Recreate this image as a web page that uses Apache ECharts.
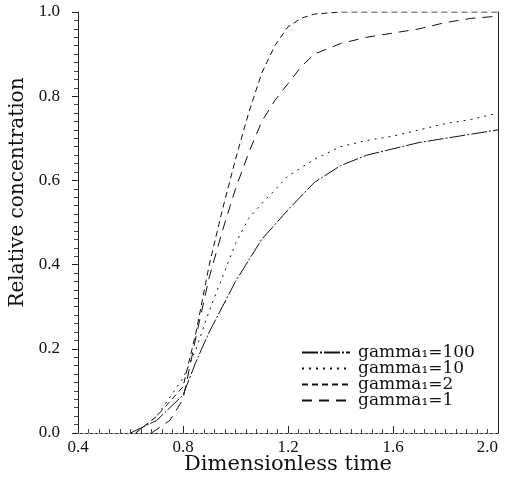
<!DOCTYPE html>
<html>
<head>
<meta charset="utf-8">
<script src="https://cdn.jsdelivr.net/npm/echarts@6/dist/echarts.min.js"></script>
<style>
  html, body { margin: 0; padding: 0; background: #fff; }
  #chart { width: 505px; height: 479px; }
</style>
</head>
<body>
<div id="chart"></div>
<script>
// values, [time, concentration]
const gamma100 = [[0.6,0],[0.7,0.03],[0.8,0.09],[0.85,0.17],[0.9,0.24],[0.95,0.30],[1.0,0.36],[1.1,0.46],[1.2,0.53],[1.3,0.595],[1.4,0.635],[1.5,0.66],[1.6,0.675],[1.7,0.69],[1.8,0.70],[1.9,0.71],[2.0,0.72]]
const gamma10 = [[0.62,0],[0.7,0.04],[0.8,0.13],[0.85,0.2],[0.9,0.29],[0.95,0.37],[1.0,0.45],[1.05,0.51],[1.1,0.545],[1.2,0.61],[1.3,0.65],[1.4,0.68],[1.5,0.695],[1.6,0.705],[1.7,0.72],[1.8,0.735],[1.9,0.745],[2.0,0.76]]
const gamma2 = [[0.62,0],[0.7,0.04],[0.8,0.11],[0.85,0.24],[0.9,0.40],[0.95,0.53],[1.0,0.65],[1.05,0.76],[1.1,0.855],[1.15,0.92],[1.2,0.965],[1.25,0.985],[1.3,0.995],[1.4,1.0],[1.6,1.0],[1.8,1.0],[2.0,1.0]]
const gamma1 = [[0.68,0],[0.75,0.03],[0.8,0.08],[0.85,0.23],[0.9,0.37],[0.95,0.48],[1.0,0.58],[1.05,0.665],[1.1,0.74],[1.15,0.79],[1.2,0.83],[1.25,0.87],[1.3,0.90],[1.4,0.925],[1.5,0.94],[1.6,0.95],[1.7,0.96],[1.8,0.975],[1.9,0.985],[2.0,0.99]]
const seriesNames = ['gamma\u2081=100', 'gamma\u2081=10', 'gamma\u2081=2', 'gamma\u2081=1']

const serif = 'Liberation Serif'
const wideSerif = 'DejaVu Serif'
const chart = echarts.init(document.getElementById('chart'))

function line(name, data, dash){
    return {
        type: 'line',
        name: name,
        data: data,
        symbol: 'none',
        smooth: false,
        lineStyle: { color: '#111', width: 1, type: dash },
        itemStyle: { color: '#111' },
    }
}

chart.setOption({
    animation: false,
    backgroundColor: '#fff',
    grid: { left: 78, right: 7, top: 12, bottom: 46, outerBoundsMode: 'none' },
    legend: {
        data: seriesNames,
        orient: 'vertical',
        left: 296,
        top: 339,
        itemWidth: 48,
        itemHeight: 12,
        itemGap: -1,
        itemStyle: { opacity: 0 },
        textStyle: { fontFamily: wideSerif, fontSize: 17, lineHeight: 16, color: '#111', padding: [0, 0, 0, 3] },
    },
    xAxis: [{
        type: 'value',
        min: 0.4, max: 2.0, interval: 0.4,
        name: 'Dimensionless time',
        nameLocation: 'middle',
        nameGap: 21,
        nameMoveOverlap: false,
        nameTextStyle: { fontFamily: wideSerif, fontSize: 21, color: '#111' },
        axisLine: { lineStyle: { color: '#222' } },
        axisTick: { inside: true, length: 7, lineStyle: { color: '#222' } },
        minorTick: { show: true, splitNumber: 10, length: 4, lineStyle: { color: '#444' } },
        axisLabel: { fontFamily: serif, fontSize: 17, color: '#111', margin: 6, alignMaxLabel: 'right', formatter: v => v.toFixed(1) },
        splitLine: { show: false },
    }, {
        type: 'value', position: 'top',
        min: 0.4, max: 2.0, interval: 0.4,
        axisLine: { lineStyle: { color: '#999', type: [2,3] } },
        axisTick: { show: false }, axisLabel: { show: false }, splitLine: { show: false },
    }],
    yAxis: [{
        type: 'value',
        min: 0, max: 1.0, interval: 0.2,
        name: 'Relative concentration',
        nameLocation: 'middle',
        nameGap: 44,
        nameTextStyle: { fontFamily: wideSerif, fontSize: 20, color: '#111', padding: [0, 0, 0, 60] },
        axisLine: { show: true, lineStyle: { color: '#222' } },
        axisTick: { show: true, length: 6, lineStyle: { color: '#222' } },
        minorTick: { show: true, splitNumber: 10, length: 4, lineStyle: { color: '#444' } },
        axisLabel: { fontFamily: serif, fontSize: 17, color: '#111', margin: 18, formatter: v => v.toFixed(1) },
        splitLine: { show: false },
    }, {
        type: 'value', position: 'right',
        min: 0, max: 1.0, interval: 0.2,
        axisLine: { show: true, lineStyle: { color: '#222' } },
        axisTick: { show: false }, axisLabel: { show: false }, splitLine: { show: false },
    }],
    series: [
        line(seriesNames[0], gamma100, [16, 2, 2, 2]),
        line(seriesNames[1], gamma10, [2, 5]),
        line(seriesNames[2], gamma2, [6, 4]),
        line(seriesNames[3], gamma1, [10, 7]),
    ]
})
</script>
</body>
</html>
